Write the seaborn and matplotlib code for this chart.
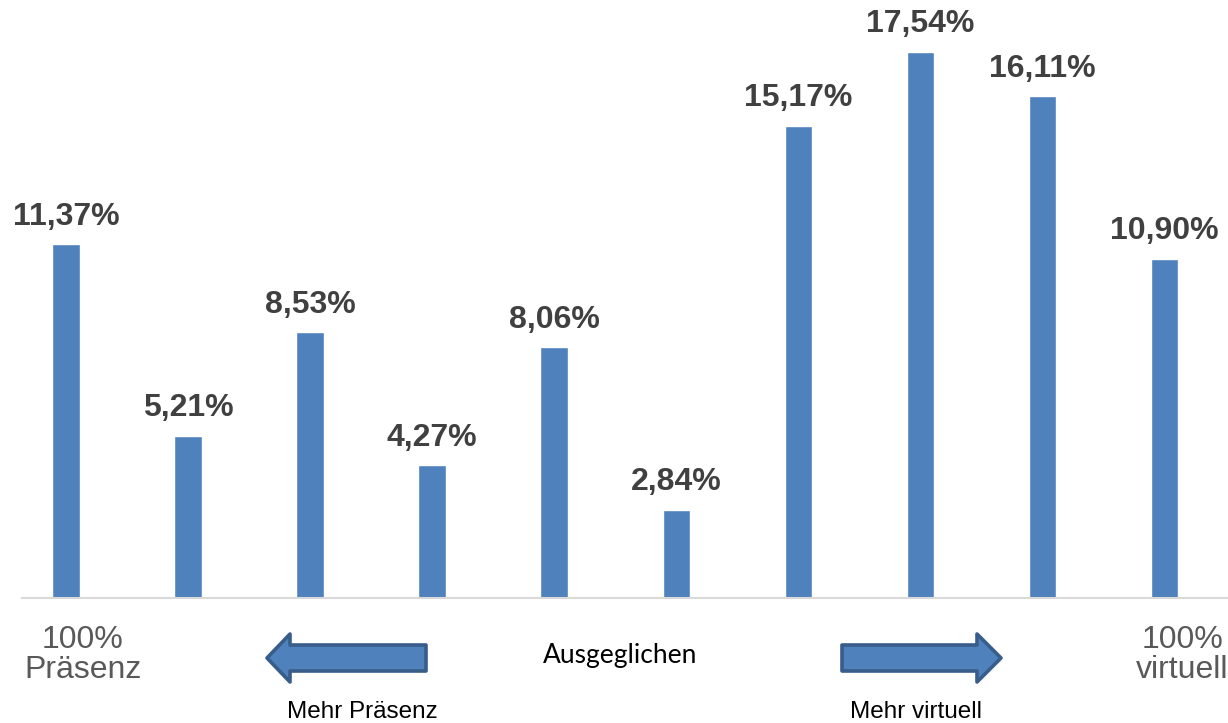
import matplotlib
matplotlib.use("Agg")
import matplotlib.pyplot as plt
import seaborn as sns
import pandas as pd
from matplotlib.patches import Polygon

# ---- data ----
categories = ["1", "2", "3", "4", "5", "6", "7", "8", "9", "10"]
values = [11.37, 5.21, 8.53, 4.27, 8.06, 2.84, 15.17, 17.54, 16.11, 10.90]
left_label = "100%\nPräsenz"
right_label = "100%\nvirtuell"
mid_label = "Ausgeglichen"
arrow_left_label = "Mehr Präsenz"
arrow_right_label = "Mehr virtuell"

sns.set_style("white")
plt.rcParams['font.family'] = ['Liberation Sans', 'DejaVu Sans']

W, H = 1228, 723
fig = plt.figure(figsize=(W / 100, H / 100), dpi=100)

def fx(x):
    return x / W

def fy(y):
    return 1 - y / H

ax = fig.add_axes([fx(22), fy(598), fx(1228) - fx(22), fy(0) - fy(598)])

df = pd.DataFrame({"cat": categories, "val": values})
bar_color = "#4F81BD"
sns.barplot(data=df, x="cat", y="val", color=bar_color, width=0.225,
            saturation=1, ax=ax, order=categories)

ax.set_xlim(-0.36, 9.52)
ax.set_ylim(0, 598 / 31.13)

labels = [f"{v:.2f}".replace(".", ",") + "%" for v in values]
ax.bar_label(ax.containers[0], labels=labels, padding=9, fontsize=23,
             fontweight="bold", color="#404040")

for s in ["top", "right", "left"]:
    ax.spines[s].set_visible(False)
ax.spines["bottom"].set_color("#D9D9D9")
ax.spines["bottom"].set_linewidth(1.5)
ax.set_xticks([])
ax.set_yticks([])
ax.set_xlabel("")
ax.set_ylabel("")

# ---- bottom annotations ----
fig.text(fx(83), fy(655), left_label, ha="center", va="center",
         fontsize=23, color="#595959", linespacing=1.0)
fig.text(fx(1182), fy(655), right_label, ha="center", va="center",
         fontsize=23, color="#595959", linespacing=1.0)
fig.text(fx(620), fy(655), mid_label, ha="center", va="center",
         fontsize=19, color="black", family=["Lato", "DejaVu Sans"])
fig.text(fx(362), fy(712), arrow_left_label, ha="center", va="center",
         fontsize=17.5, color="black")
fig.text(fx(916), fy(712), arrow_right_label, ha="center", va="center",
         fontsize=17.5, color="black")

def arrow(tip_x, base_x, tail_x, ymid, shaft_half, head_half):
    pts = [(tip_x, ymid), (base_x, ymid - head_half), (base_x, ymid - shaft_half),
           (tail_x, ymid - shaft_half), (tail_x, ymid + shaft_half),
           (base_x, ymid + shaft_half), (base_x, ymid + head_half)]
    poly = Polygon([(fx(x), fy(y)) for x, y in pts], closed=True,
                   transform=fig.transFigure, facecolor="#4F81BD",
                   edgecolor="#385D8A", linewidth=2.6, joinstyle="round")
    fig.patches.append(poly)

arrow(267, 290, 426, 658, 13, 24)
arrow(1001, 977, 842, 658, 13, 24)

fig.savefig("out.png", dpi=100)
